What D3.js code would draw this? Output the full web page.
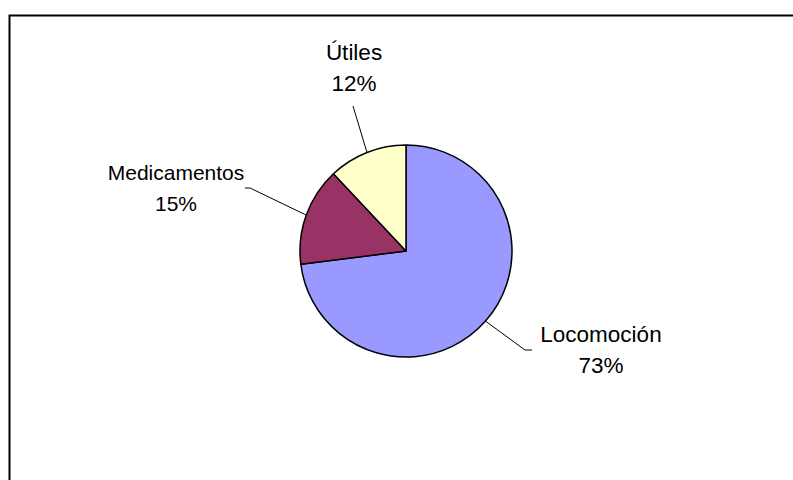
<!DOCTYPE html>
<html>
<head>
<meta charset="utf-8">
<script src="https://cdn.jsdelivr.net/npm/d3@7/dist/d3.min.js"></script>
<style>
  html, body { margin: 0; padding: 0; background: #fff; overflow: hidden; }
  svg { display: block; }
  text { font-family: Arial, "Liberation Sans", sans-serif; fill: #000; }
</style>
</head>
<body>
<svg id="chart" width="793" height="480"></svg>
<script>
var categories = ["Locomoción", "Medicamentos", "Útiles"];
var values = [73, 15, 12];
var colors = ["#9999ff", "#993366", "#ffffcc"];

var svg = d3.select("#chart"),
    cx = 406, cy = 251, radius = 106;

// chart area frame (right/bottom edges fall outside the picture)
svg.append("rect")
    .attr("x", 9.5).attr("y", 15.5)
    .attr("width", 820).attr("height", 500)
    .attr("fill", "none")
    .attr("stroke", "#000")
    .attr("stroke-width", 2);

var data = categories.map(function(c, i) { return {name: c, value: values[i], color: colors[i]}; });

var pie = d3.pie().sort(null).value(function(d) { return d.value; });
var arc = d3.arc().innerRadius(0).outerRadius(radius);
var edge = d3.arc().innerRadius(radius).outerRadius(radius);

var g = svg.append("g").attr("transform", "translate(" + cx + "," + cy + ")");
var arcs = pie(data);

g.selectAll("path.slice")
    .data(arcs)
  .enter().append("path")
    .attr("class", "slice")
    .attr("d", arc)
    .attr("fill", function(d) { return d.data.color; })
    .attr("stroke", "#000")
    .attr("stroke-width", 1.5)
    .attr("stroke-linejoin", "round");

// label placement (layout only), relative to pie centre
var labelLayout = {
  "Locomoción":   {x: 195, y: 91, size: 22.5, line: [[119, 99], [126, 99]]},
  "Medicamentos": {x: -230, y: -71, size: 21, line: [[-156, -63], [-161, -63]]},
  "Útiles":       {x: -52, y: -191, size: 22.5, line: [[-53, -145]]}
};

arcs.forEach(function(d) {
  var L = labelLayout[d.data.name];
  var p = edge.centroid(d);
  var pts = [p].concat(L.line);
  g.append("path")
      .attr("d", d3.line()(pts))
      .attr("fill", "none")
      .attr("stroke", "#000")
      .attr("stroke-width", 1);
  var t = g.append("text")
      .attr("text-anchor", "middle")
      .attr("font-size", L.size)
      .attr("x", L.x).attr("y", L.y);
  t.append("tspan").attr("x", L.x).text(d.data.name);
  t.append("tspan").attr("x", L.x).attr("dy", 31).text(d.data.value + "%");
});
</script>
</body>
</html>
